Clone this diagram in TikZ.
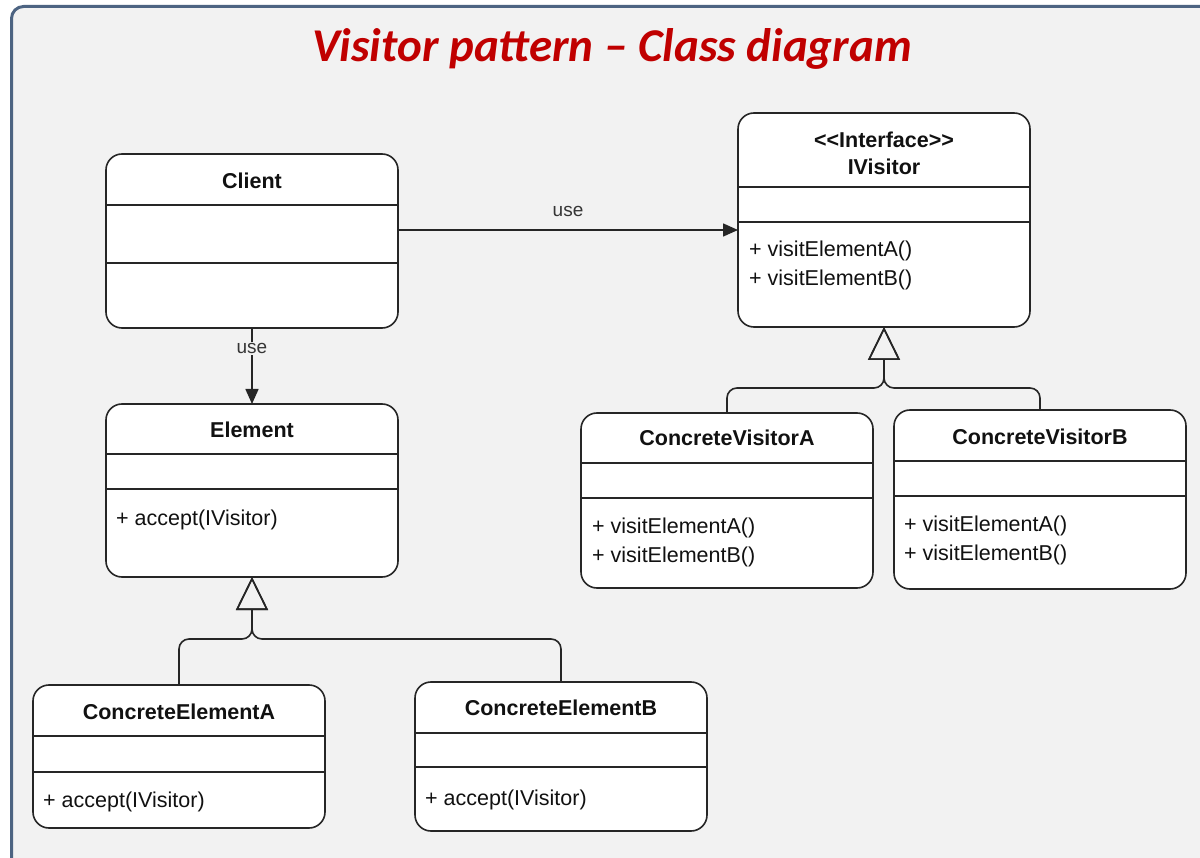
\documentclass[tikz,border=0pt]{standalone}
\usepackage{fontspec}
\newfontfamily\umlfont{Liberation Sans}
\newfontfamily\titlefont{Carlito}
\usetikzlibrary{arrows.meta,calc}
\definecolor{bgc}{HTML}{F2F2F2}
\definecolor{framec}{HTML}{4D6482}
\definecolor{titlec}{HTML}{C00000}
\definecolor{linec}{HTML}{262626}
\definecolor{txtc}{HTML}{111111}
\newcommand\umldiv[2]{\draw[divider] ([yshift=-#2]#1.north west) -- ([yshift=-#2]#1.north east);}
\begin{document}
\begin{tikzpicture}[x=1pt,y=-1pt,
  umlbox/.style={draw=linec, line width=1.6pt, fill=white, rounded corners=16pt, inner sep=0pt, outer sep=0pt},
  divider/.style={draw=linec, line width=1.6pt},
  cname/.style={font=\umlfont\bfseries\fontsize{21.5}{27}\selectfont, text=txtc, inner sep=0pt, align=center},
  cmeth/.style={font=\umlfont\fontsize{21.5}{29}\selectfont, text=txtc, inner sep=0pt, anchor=west, align=left},
  lbl/.style={font=\umlfont\fontsize{19}{22}\selectfont, text=txtc!85, inner sep=1.5pt},
  conn/.style={draw=linec, line width=1.6pt},
  usearrow/.style={conn, -{Triangle[length=15pt,width=13pt]}},
  inherit/.style={conn, rounded corners=10pt, -{Triangle[open,length=33pt,width=32pt]}}
]
\useasboundingbox (0,0) rectangle (1200,858);
\fill[white] (0,0) rectangle (1200,858);
\draw[framec, line width=3pt, fill=bgc, rounded corners=12pt] (11.5,6.5) rectangle (1230,890);

\node[font=\titlefont\bfseries\itshape\fontsize{47}{56}\selectfont, text=titlec, anchor=base, inner sep=0pt] (title) at (612,62) {Visitor pattern – Class diagram};

% Client
\node[umlbox, minimum width=292pt, minimum height=174pt] (client) at (252,241) {};
\umldiv{client}{51pt}\umldiv{client}{109pt}
\node[cname] (clientN) at (252,181) {Client};

% IVisitor
\node[umlbox, minimum width=292pt, minimum height=214pt] (ivisitor) at (884,220) {};
\umldiv{ivisitor}{74pt}\umldiv{ivisitor}{109pt}
\node[cname] (ivisitorN) at (884,153.5) {<<Interface>>\\IVisitor};
\node[cmeth] (ivisitorM) at (749,265) {+ visitElementA()\\+ visitElementB()};

% Element
\node[umlbox, minimum width=292pt, minimum height=173pt] (element) at (252,490.5) {};
\umldiv{element}{50pt}\umldiv{element}{85pt}
\node[cname] (elementN) at (252,430) {Element};
\node[cmeth] (elementM) at (116,520) {+ accept(IVisitor)};

% ConcreteElementA
\node[umlbox, minimum width=292pt, minimum height=143pt] (cea) at (179,756.5) {};
\umldiv{cea}{51pt}\umldiv{cea}{87pt}
\node[cname] (ceaN) at (179,712) {ConcreteElementA};
\node[cmeth] (ceaM) at (43,802) {+ accept(IVisitor)};

% ConcreteElementB
\node[umlbox, minimum width=292pt, minimum height=149pt] (ceb) at (561,756.5) {};
\umldiv{ceb}{51pt}\umldiv{ceb}{85pt}
\node[cname] (cebN) at (561,708) {ConcreteElementB};
\node[cmeth] (cebM) at (425,800) {+ accept(IVisitor)};

% ConcreteVisitorA
\node[umlbox, minimum width=292pt, minimum height=175pt] (cva) at (727,500.5) {};
\umldiv{cva}{50pt}\umldiv{cva}{85pt}
\node[cname] (cvaN) at (727,438) {ConcreteVisitorA};
\node[cmeth] (cvaM) at (592,542) {+ visitElementA()\\+ visitElementB()};

% ConcreteVisitorB
\node[umlbox, minimum width=292pt, minimum height=179pt] (cvb) at (1040,499.5) {};
\umldiv{cvb}{51pt}\umldiv{cvb}{86pt}
\node[cname] (cvbN) at (1040,437) {ConcreteVisitorB};
\node[cmeth] (cvbM) at (904,540.5) {+ visitElementA()\\+ visitElementB()};

% associations
\draw[usearrow] ([yshift=11pt]client.east) -- ([yshift=11pt]client.east -| ivisitor.west)
  node[lbl, midway, yshift=19pt] (use1) {use};
\draw[usearrow] (client.south) -- (element.north)
  node[lbl, pos=0.27, fill=bgc] (use2) {use};

% generalizations
\coordinate (jE) at (252,639);
\coordinate (jV) at (884,388);
\draw[inherit] (cea.north) |- (jE) -- (element.south);
\draw[inherit] (ceb.north) |- (jE) -- (element.south);
\draw[inherit] (cva.north) |- (jV) -- (ivisitor.south);
\draw[inherit] (cvb.north) |- (jV) -- (ivisitor.south);
\end{tikzpicture}
\end{document}
